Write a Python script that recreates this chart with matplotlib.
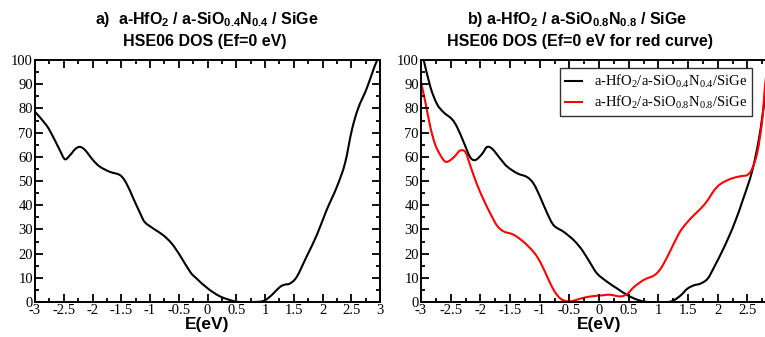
import matplotlib
matplotlib.use("Agg")
import matplotlib.pyplot as plt
from matplotlib.ticker import MultipleLocator
from matplotlib.path import Path
from matplotlib.patches import PathPatch
from matplotlib.lines import Line2D

plt.rcParams['mathtext.default'] = 'regular'

# ---- data ----
x_a = [-3.0, -2.8, -2.68, -2.57, -2.48, -2.39, -2.3, -2.22, -2.13, -1.99, -1.87, -1.7, -1.52,
       -1.41, -1.29, -1.17, -1.09, -0.94, -0.77, -0.62, -0.48, -0.3, -0.19, 0.01, 0.22,
       0.45, 0.57, 0.8, 0.97, 1.09, 1.26, 1.35, 1.43, 1.55, 1.72, 1.9, 2.07, 2.25, 2.39,
       2.51, 2.62, 2.77, 2.9, 2.97]
y_a = [78.6, 73, 68, 62.8, 59, 60.7, 63.2, 64.1, 62.8, 58.6, 55.9, 53.8, 52.4,
       49, 42.8, 36.6, 33, 30.3, 27.6, 24.1, 19.3, 12.4, 9.7, 5.5, 2.3,
       0.4, 0.0, 0.0, 0.4, 2.3, 6.2, 7.2, 7.6, 10.3, 18.6, 27.6, 37.9, 47.6, 57.2,
       71, 80, 88.3, 97, 101]

x_b_black = [-3.0, -2.955, -2.84, -2.73, -2.62, -2.48, -2.39, -2.28, -2.17, -2.08, -1.97, -1.89,
             -1.8, -1.66, -1.55, -1.38, -1.21, -1.1, -0.99, -0.87, -0.76, -0.59, -0.42, -0.28,
             -0.14, -0.03, 0.14, 0.31, 0.48, 0.64, 0.81, 1.15, 1.26, 1.38, 1.49, 1.6, 1.71,
             1.83, 1.94, 2.11, 2.28, 2.44, 2.58, 2.7, 2.81, 2.9, 3.0]
y_b_black = [104, 100, 88.7, 81.8, 78.4, 75.6, 72.2, 66, 59.8, 58.7, 61.2, 64,
             63.3, 59.1, 56, 53.2, 51.6, 48.8, 43.3, 36.5, 31.6, 28.9, 25.4, 21.3,
             15.8, 11.7, 8.3, 5.5, 2.8, 1.0, 0.0, 0.0, 0.7, 2.8, 5.5, 6.9, 7.6,
             9.6, 14.4, 22.7, 32.3, 43.3, 54, 68, 86, 95, 102]

x_b_red = [-3.0, -2.93, -2.84, -2.76, -2.67, -2.59, -2.51, -2.42, -2.34, -2.25, -2.17, -2.06,
           -1.94, -1.83, -1.72, -1.61, -1.44, -1.27, -1.1, -0.99, -0.87, -0.76, -0.65, -0.54,
           -0.45, -0.31, -0.14, 0.08, 0.19, 0.36, 0.48, 0.59, 0.76, 0.93, 1.04, 1.15, 1.26,
           1.38, 1.54, 1.71, 1.83, 1.94, 2.05, 2.22, 2.39, 2.5, 2.58, 2.67, 2.75, 2.81, 2.9, 3.0]
y_b_red = [90.8, 83, 72, 65, 60.5, 58, 58.5, 60.5, 62.6, 61.9, 56.4, 48.8,
           42, 36.5, 31.6, 29.2, 27.8, 24.8, 20.6, 16.5, 10.3, 4.8, 1.4, 0.3,
           0.4, 1.4, 2.3, 2.8, 3.0, 2.3, 3.4, 6.2, 9.2, 11, 13.8, 18.6, 24.1,
           29.6, 34.4, 38.5, 42, 46.1, 48.8, 50.9, 52, 52.5, 55, 62, 75, 92, 105, 115]

xticks = [-3, -2.5, -2, -1.5, -1, -0.5, 0, 0.5, 1, 1.5, 2, 2.5, 3]
xticklabels = ['-3', '-2.5', '-2', '-1.5', '-1', '-0.5', '0', '0.5', '1', '1.5', '2', '2.5', '3']
yticks = [0, 10, 20, 30, 40, 50, 60, 70, 80, 90, 100]

label_04 = 'a-HfO$_2$/a-SiO$_{0.4}$N$_{0.4}$/SiGe'
label_08 = 'a-HfO$_2$/a-SiO$_{0.8}$N$_{0.8}$/SiGe'
title_a1 = 'a)  a-HfO$_2$ / a-SiO$_{0.4}$N$_{0.4}$ / SiGe'
title_a2 = 'HSE06 DOS (Ef=0 eV)'
title_b1 = 'b) a-HfO$_2$ / a-SiO$_{0.8}$N$_{0.8}$ / SiGe'
title_b2 = 'HSE06 DOS (Ef=0 eV for red curve)'

# ---- figure ----
W, H = 765, 337
fig = plt.figure(figsize=(W / 100, H / 100), dpi=100)

def px_axes(l, r, t, b):
    return fig.add_axes([l / W, 1 - b / H, (r - l) / W, (b - t) / H])

ax1 = px_axes(35, 380, 60, 302)
ax2 = px_axes(421, 777, 60, 302)

serif = 'Liberation Serif'
sans = 'Liberation Sans'


def smooth_curve(ax, xs, ys, color, lw=1.5):
    """Draw a curve through the read points with Catmull-Rom Bezier segments."""
    n = len(xs)
    verts = [(xs[0], ys[0])]
    codes = [Path.MOVETO]
    for i in range(n - 1):
        x0, y0 = (xs[i - 1], ys[i - 1]) if i > 0 else (xs[i], ys[i])
        x1, y1 = xs[i], ys[i]
        x2, y2 = xs[i + 1], ys[i + 1]
        x3, y3 = (xs[i + 2], ys[i + 2]) if i + 2 < n else (x2, y2)
        c1 = (x1 + (x2 - x0) / 6.0, y1 + (y2 - y0) / 6.0)
        c2 = (x2 - (x3 - x1) / 6.0, y2 - (y3 - y1) / 6.0)
        verts += [c1, c2, (x2, y2)]
        codes += [Path.CURVE4, Path.CURVE4, Path.CURVE4]
    patch = PathPatch(Path(verts, codes), facecolor='none', edgecolor=color, lw=lw,
                      capstyle='round', joinstyle='round')
    ax.add_patch(patch)
    return patch


for ax in (ax1, ax2):
    ax.set_xlim(-3, 3)
    ax.set_ylim(0, 100)
    ax.set_xticks(xticks)
    ax.set_xticklabels(xticklabels, family=serif, fontsize=10.5)
    ax.set_yticks(yticks)
    ax.set_yticklabels([str(v) for v in yticks], family=serif, fontsize=10.5)
    ax.xaxis.set_minor_locator(MultipleLocator(0.25))
    ax.yaxis.set_minor_locator(MultipleLocator(5))
    ax.tick_params(which='both', direction='in', top=True, right=True, width=1.3, colors='black')
    ax.tick_params(which='major', length=6, pad=1.5)
    ax.tick_params(which='minor', length=3)
    for s in ax.spines.values():
        s.set_linewidth(1.4)
    ax.set_xlabel('E(eV)', family=sans, fontweight='bold', fontsize=12.5, labelpad=0)

smooth_curve(ax1, x_a, y_a, 'black')
smooth_curve(ax2, x_b_black, y_b_black, 'black')
smooth_curve(ax2, x_b_red, y_b_red, '#ff0000')

handles = [Line2D([], [], color='black', lw=1.5), Line2D([], [], color='#ff0000', lw=1.5)]
leg = ax2.legend(handles, [label_04, label_08], loc='upper right',
                 bbox_to_anchor=(0.93, 0.967), borderaxespad=0,
                 prop={'family': serif, 'size': 10.5}, frameon=True, fancybox=False,
                 handlelength=1.2, handletextpad=0.8, borderpad=0.35, labelspacing=0.25)
leg.get_frame().set_edgecolor('black')
leg.get_frame().set_linewidth(1.0)

# titles
fig.text(207 / W, 1 - 24 / H, title_a1, ha='center', va='baseline', family=sans,
         fontweight='bold', fontsize=11.5)
fig.text(205 / W, 1 - 46 / H, title_a2, ha='center', va='baseline', family=sans,
         fontweight='bold', fontsize=11.5)
fig.text(577 / W, 1 - 24 / H, title_b1, ha='center', va='baseline', family=sans,
         fontweight='bold', fontsize=11.5)
fig.text(580 / W, 1 - 46 / H, title_b2, ha='center', va='baseline', family=sans,
         fontweight='bold', fontsize=11.5)

fig.savefig('out.png', dpi=100)
